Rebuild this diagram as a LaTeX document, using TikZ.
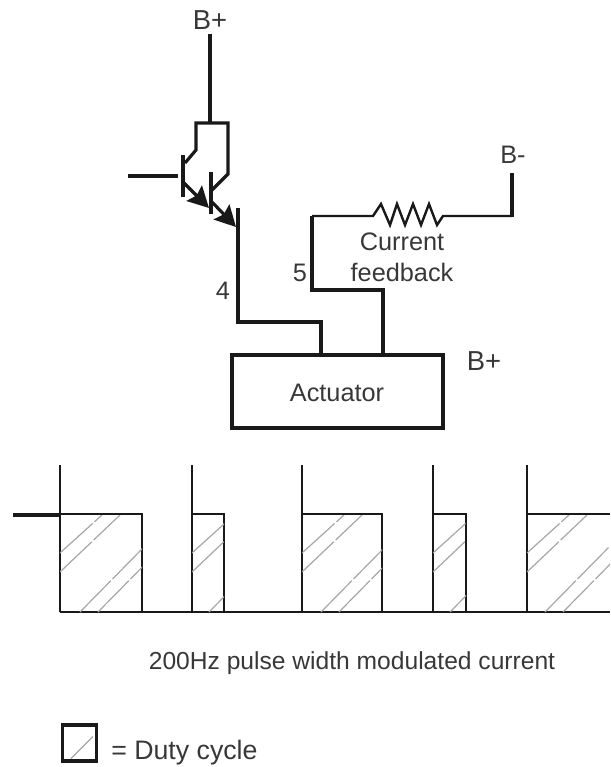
\documentclass[tikz,border=0pt]{standalone}
\usepackage{fontspec}
\setmainfont{Liberation Sans}
\usetikzlibrary{arrows.meta}
\definecolor{inkline}{gray}{0.1}
\definecolor{inktext}{gray}{0.22}
\tikzset{
  wire/.style={line width=0.08cm,inkline,line join=miter},
  pulse/.style={line width=0.045cm,inkline,line join=miter},
  hatch/.style={line width=0.03cm,gray!70,dash pattern=on 1.1cm off 0.06cm},
  label/.style={inner sep=0,text=inktext,font=\fontsize{18pt}{20pt}\selectfont},
  emitter/.style={wire,-{Stealth[length=0.52cm,width=0.54cm,inset=0.08cm]}},
}
\newcommand{\dutyhatch}[3]{
\begin{scope}
\clip (#1,515) rectangle (#2,612);
\draw[hatch] (#1,553) -- ++(42,-38);
\draw[hatch] (#1,572) -- ++(60,-57);
\draw[hatch] (#1+#3,612) -- ++(65,-66);
\draw[hatch] (#1+#3+18,612) -- ++(65,-66);
\end{scope}
}
\begin{document}
\begin{tikzpicture}[x=0.025cm,y=-0.025cm]
\useasboundingbox (0,0) rectangle (610,767);

\node[label,font=\fontsize{19.5pt}{20pt}\selectfont] (bplustop) at (210,20) {B+};
\node[label] (bminus) at (513,155) {B-};
\node[label,font=\fontsize{19.5pt}{20pt}\selectfont] (bplusact) at (484,361) {B+};
\node[label] (current) at (402,242) {Current};
\node[label] (feedback) at (402,272) {feedback};
\node[label] (four) at (223,291) {4};
\node[label] (five) at (300,273) {5};
\node[label,draw=inkline,line width=0.08cm,minimum width=5.275cm,minimum height=1.825cm] (actuator) at (337.5,391.5) {};
\node[label] (actuatortext) at (337,393) {Actuator};

\coordinate (supply) at (210,34);
\coordinate (split) at (210,123);
\coordinate (output) at (238,208);
\coordinate (returnend) at (512,173);

\draw[wire] (supply) -- (split);
\draw[wire] (185,163) -- (196,150) -- (196,123) -- (228,123) -- (228,174) -- (212,190);
\draw[wire] (128,176) -- (178,176);
\draw[wire] (183,155) -- (183,197);
\draw[wire] (211,172) -- (211,214);
\draw[emitter] (183,182) -- (209,208);
\draw[emitter] (211,201) -- (236,227);

\draw[wire] (output) |- (321,322) -- (actuator.north -| 321,0);
\draw[wire] (actuator.north -| 383,0) -- (383,290) -- (312,290) -- (312,216);
\draw[wire,line width=0.06cm] (312,216) -- (373,216) -- (381,204) -- (390,225) -- (397,204) -- (405,225) -- (413,204) -- (421,225) -- (429,204) -- (437,225) -- (443,216) -- (512,216);
\draw[wire] (512,217) -- (returnend);

\draw[line width=0.1cm,inkline] (13,515) -- (60,515);
\draw[pulse] (60,465) -- (60,612);
\draw[pulse] (60,514) -- (142,514) -- (142,612);
\draw[pulse] (192,465) -- (192,612);
\draw[pulse] (192,514) -- (224,514) -- (224,612);
\draw[pulse] (302,465) -- (302,612);
\draw[pulse] (302,514) -- (382,514) -- (382,612);
\draw[pulse] (433,465) -- (433,612);
\draw[pulse] (433,514) -- (466,514) -- (466,612);
\draw[pulse] (527,465) -- (527,612);
\draw[pulse] (527,514) -- (610,514);
\draw[pulse] (60,612) -- (610,612);

\dutyhatch{60}{142}{20}
\dutyhatch{192}{224}{17}
\dutyhatch{302}{382}{19}
\dutyhatch{433}{466}{17}
\dutyhatch{527}{610}{18}

\node[label,font=\fontsize{17.5pt}{20pt}\selectfont] (caption) at (352,663) {200Hz pulse width modulated current};

\node[draw=inkline,line width=0.08cm,minimum width=0.85cm,minimum height=0.9cm,inner sep=0] (dutybox) at (79.5,743) {};
\draw[line width=0.03cm,gray!70] (dutybox.south west) ++(10,-4) -- ++(22,-22);
\node[label,anchor=west,font=\fontsize{19pt}{20pt}\selectfont] (dutytext) at (111,753) {= Duty cycle};
\end{tikzpicture}
\end{document}
